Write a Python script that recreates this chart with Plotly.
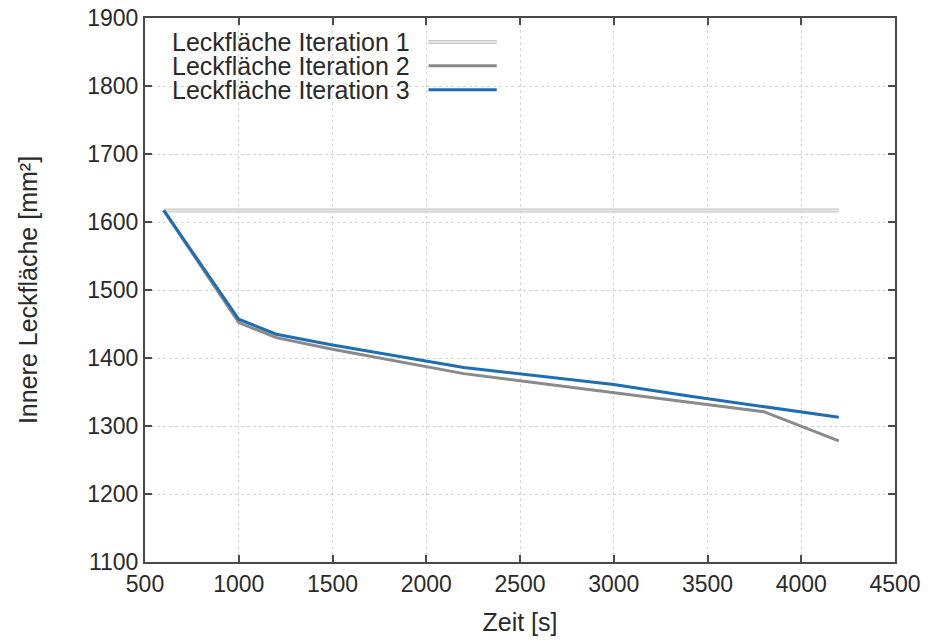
import plotly.graph_objects as go

# Data
zeit = [600, 1000, 1200, 1500, 2200, 3000, 3400, 3800, 4200]
iter1 = [1617, 1617, 1617, 1617, 1617, 1617, 1617, 1617, 1617]
iter2 = [1617, 1452, 1430, 1413, 1377, 1349, 1334, 1321, 1278]
iter3 = [1617, 1457, 1435, 1419, 1386, 1361, 1344, 1329, 1313]
names = ["Leckfläche Iteration 1", "Leckfläche Iteration 2", "Leckfläche Iteration 3"]
x_ticks = [500, 1000, 1500, 2000, 2500, 3000, 3500, 4000, 4500]
y_ticks = [1100, 1200, 1300, 1400, 1500, 1600, 1700, 1800, 1900]

FONT = "Liberation Sans, Arial, Helvetica, sans-serif"
colors = ["#c9c9c9", "#8a8a8a", "#1f6db3"]
widths = [4, 3, 3]

fig = go.Figure()
for ys, nm, c, w in zip([iter1, iter2, iter3], names, colors, widths):
    fig.add_trace(go.Scatter(x=zeit, y=ys, mode="lines", name=nm,
                             line=dict(color=c, width=w), showlegend=False))
    if nm == names[0]:
        # lighter core gives the double-edged look of iteration 1
        fig.add_trace(go.Scatter(x=zeit, y=ys, mode="lines", hoverinfo="skip",
                                 line=dict(color="#ebebeb", width=1.5), showlegend=False))

# Custom legend (text left, line sample right) like the reference
row_y = [0.956, 0.912, 0.868]
for i, (nm, c, w, ry) in enumerate(zip(names, colors, widths, row_y)):
    fig.add_annotation(xref="paper", yref="paper", x=0.355, y=ry, text=nm,
                       showarrow=False, xanchor="right", yanchor="middle",
                       height=23, borderpad=0, valign="middle",
                       font=dict(family=FONT, size=25, color="#2a2a2a"))
    fig.add_shape(type="line", xref="paper", yref="paper", x0=0.378, x1=0.469,
                  y0=ry, y1=ry, line=dict(color=c, width=w))
    if i == 0:
        fig.add_shape(type="line", xref="paper", yref="paper", x0=0.378, x1=0.469,
                      y0=ry, y1=ry, line=dict(color="#ebebeb", width=1.5))

axis_common = dict(
    showline=True, linecolor="#4a4a4a", linewidth=2, mirror="ticks",
    ticks="inside", ticklen=7, tickcolor="#4a4a4a", tickwidth=1.5,
    showgrid=True, gridcolor="#d4d4d4", griddash="dot", gridwidth=1,
    zeroline=False, ticklabeloverflow="allow", automargin=False,
    tickfont=dict(family=FONT, size=23, color="#2a2a2a"),
)

fig.update_xaxes(range=[500, 4500], tickvals=x_ticks,
                 title=dict(text="Zeit [s]", standoff=18,
                            font=dict(family=FONT, size=25, color="#2a2a2a")),
                 **axis_common)
fig.update_yaxes(range=[1100, 1900], tickvals=y_ticks,
                 title=dict(text="Innere Leckfläche [mm²]", standoff=42,
                            font=dict(family=FONT, size=25, color="#2a2a2a")),
                 **axis_common)

# page body adds an 8px offset; margins compensate so the plot area lands
# at x 145..895, y 18..562 in the window
fig.update_layout(
    width=933, height=642,
    margin=dict(l=137, r=46, t=10, b=88, autoexpand=False),
    plot_bgcolor="white", paper_bgcolor="white",
    showlegend=False,
)

fig.write_html("out.html")
